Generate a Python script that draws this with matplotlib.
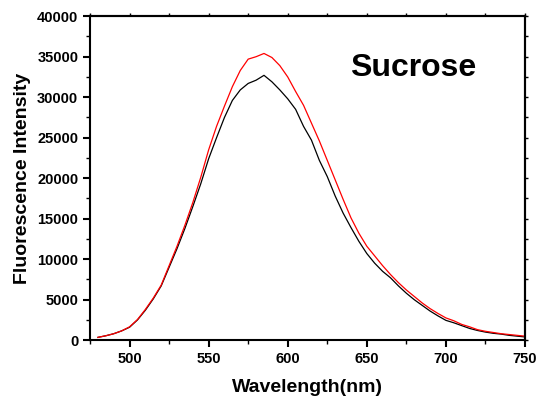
import numpy as np
import matplotlib
matplotlib.use('Agg')
import matplotlib.pyplot as plt
from matplotlib.ticker import MultipleLocator

plt.rcParams['font.family'] = ['Liberation Sans', 'DejaVu Sans']

# wavelength (nm)
wavelength = [480, 485, 490, 495, 500, 505, 510, 515, 520, 525, 530, 535, 540, 545,
              550, 555, 560, 565, 570, 575, 580, 585, 590, 595, 600, 605, 610, 615,
              620, 625, 630, 635, 640, 645, 650, 655, 660, 665, 670, 675, 680, 685,
              690, 695, 700, 705, 710, 715, 720, 725, 730, 735, 740, 745, 750]

# black curve
intensity_black = [350, 550, 800, 1150, 1600, 2500, 3700, 5100, 6700, 9000, 11300, 13800,
                   16500, 19300, 22400, 25000, 27500, 29600, 30900, 31700, 32100, 32700,
                   31900, 30900, 29800, 28500, 26400, 24700, 22200, 20200, 17800, 15700,
                   13900, 12200, 10700, 9500, 8500, 7700, 6700, 5800, 5000, 4300, 3600,
                   3000, 2450, 2150, 1800, 1450, 1200, 1000, 850, 750, 600, 500, 400]

# red curve
intensity_red = [350, 550, 800, 1150, 1650, 2550, 3800, 5200, 6800, 9200, 11600, 14200,
                 17000, 20100, 23500, 26400, 28900, 31300, 33300, 34700, 35000, 35400,
                 34900, 33900, 32500, 30700, 29000, 26800, 24600, 22200, 19800, 17400,
                 15100, 13200, 11600, 10400, 9200, 8100, 7100, 6200, 5400, 4600, 3900,
                 3300, 2750, 2400, 1950, 1650, 1300, 1100, 950, 800, 700, 600, 500]

fig = plt.figure(figsize=(5.39, 4.05), dpi=100)
ax = fig.add_axes([0.167, 0.160, 0.807, 0.800])

ax.plot(wavelength, intensity_black, color='black', linewidth=0.9)
ax.plot(wavelength, intensity_red, color='red', linewidth=0.9)

ax.set_xlim(475, 750)
ax.set_ylim(0, 40000)
ax.xaxis.set_major_locator(MultipleLocator(50))
ax.xaxis.set_minor_locator(MultipleLocator(25))
ax.yaxis.set_major_locator(MultipleLocator(5000))
ax.yaxis.set_minor_locator(MultipleLocator(2500))

for s in ax.spines.values():
    s.set_linewidth(1.5)

ax.tick_params(which='major', direction='out', length=5, width=1.5, labelsize=10.5)
ax.tick_params(which='minor', direction='out', length=3, width=1.0)
for lab in ax.get_xticklabels() + ax.get_yticklabels():
    lab.set_fontweight('bold')

# small outward ticks on top and right, no labels
top = ax.secondary_xaxis('top')
top.xaxis.set_major_locator(MultipleLocator(25))
top.tick_params(direction='out', length=2.5, width=1.0, labeltop=False)
top.spines['top'].set_linewidth(1.5)
right = ax.secondary_yaxis('right')
right.yaxis.set_major_locator(MultipleLocator(2500))
right.tick_params(direction='out', length=2.5, width=1.0, labelright=False)
right.spines['right'].set_linewidth(1.5)

ax.set_xlabel('Wavelength(nm)', fontsize=14, fontweight='bold', labelpad=9)
ax.set_ylabel('Fluorescence Intensity', fontsize=14, fontweight='bold', labelpad=4)

ax.text(679, 33600, 'Sucrose', fontsize=23, fontweight='bold', ha='center', va='center')

fig.savefig('out.png', dpi=100)
